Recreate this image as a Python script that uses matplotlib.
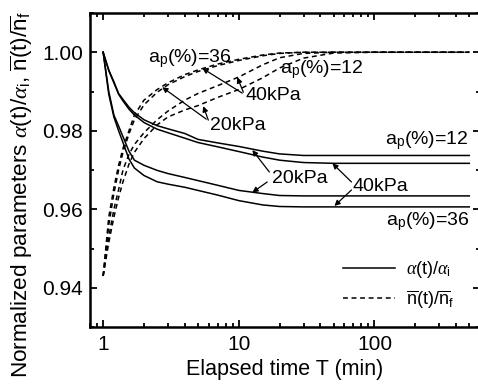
import numpy as np
import matplotlib.pyplot as plt
from matplotlib.ticker import MultipleLocator, LogLocator, NullFormatter, FixedLocator, FixedFormatter

plt.rcParams['font.family'] = ['Liberation Sans', 'DejaVu Sans']
plt.rcParams['mathtext.fontset'] = 'custom'
plt.rcParams['mathtext.rm'] = 'Liberation Sans'
plt.rcParams['mathtext.it'] = 'Liberation Serif:italic'
plt.rcParams['mathtext.bf'] = 'Liberation Sans:bold'

# elapsed time (min)
T = [1, 1.1, 1.2, 1.3, 1.4, 1.55, 1.7, 2, 2.5, 3, 4, 5, 7, 10, 15, 20, 30, 50, 100, 500]

# alpha(t)/alpha_i  (solid)
a12_20 = [1.0, 0.9955, 0.9925, 0.9895, 0.9880, 0.9860, 0.9846, 0.9828, 0.9813, 0.9805,
          0.9793, 0.9778, 0.9769, 0.9760, 0.9748, 0.9741, 0.9737, 0.9737, 0.9737, 0.9737]
a12_40 = [1.0, 0.9953, 0.9922, 0.9893, 0.9876, 0.9855, 0.9840, 0.9821, 0.9804, 0.9795,
          0.9781, 0.9770, 0.9759, 0.9747, 0.9733, 0.9725, 0.9719, 0.9717, 0.9717, 0.9717]
a36_20 = [1.0, 0.9900, 0.9840, 0.9812, 0.9785, 0.9748, 0.9725, 0.9712, 0.9699, 0.9691,
          0.9681, 0.9673, 0.9661, 0.9648, 0.9640, 0.9635, 0.9634, 0.9634, 0.9634, 0.9634]
a36_40 = [1.0, 0.9893, 0.9835, 0.9800, 0.9770, 0.9728, 0.9705, 0.9686, 0.9670, 0.9664,
          0.9656, 0.9648, 0.9636, 0.9622, 0.9611, 0.9607, 0.9606, 0.9606, 0.9606, 0.9606]

# n(t)/n_f  (dashed)
n36_40 = [0.943, 0.9580, 0.9655, 0.9712, 0.9755, 0.9800, 0.9840, 0.9878, 0.9905, 0.9922,
          0.9943, 0.9955, 0.9970, 0.9982, 0.9993, 0.9998, 1.0, 1.0, 1.0, 1.0]
n36_20 = [0.943, 0.9560, 0.9640, 0.9700, 0.9745, 0.9792, 0.9828, 0.9866, 0.9898, 0.9917,
          0.9938, 0.9951, 0.9966, 0.9979, 0.9991, 0.9997, 1.0, 1.0, 1.0, 1.0]
n12_40 = [0.943, 0.9530, 0.9600, 0.9650, 0.9700, 0.9740, 0.9765, 0.9795, 0.9828, 0.9850,
          0.9878, 0.9895, 0.9915, 0.9937, 0.9968, 0.9986, 0.9997, 1.0, 1.0, 1.0]
n12_20 = [0.943, 0.9515, 0.9580, 0.9630, 0.9670, 0.9715, 0.9745, 0.9780, 0.9815, 0.9835,
          0.9853, 0.9864, 0.9885, 0.9905, 0.9935, 0.9960, 0.9985, 0.9998, 1.0, 1.0]

fig = plt.figure(figsize=(4.78, 3.85), dpi=100)
ax = fig.add_axes([90/478, 58/385, 390/478, 314/385])

lw = 1.1
dash = (0, (3.2, 2.4))
for s in [a12_20, a12_40, a36_20, a36_40]:
    ax.plot(T, s, c='k', lw=lw)
for s in [n36_40, n36_20, n12_40, n12_20]:
    ax.plot(T, s, c='k', lw=lw, ls=dash)

# legend handles
ax.plot([], [], c='k', lw=lw, label=r'$\alpha$(t)/$\alpha_\mathrm{i}$')
ax.plot([], [], c='k', lw=lw, ls=dash, label=r'$\overline{\mathrm{n}}$(t)/$\overline{\mathrm{n}}_\mathrm{f}$')
h, l = ax.get_legend_handles_labels()
ax.legend(h[-2:], l[-2:], loc='lower right', frameon=False, fontsize=13,
          handlelength=2.9, handletextpad=0.6, labelspacing=0.45,
          bbox_to_anchor=(0.975, 0.0))

ax.set_xscale('log')
ax.set_xlim(0.8, 600)
ax.set_ylim(0.93, 1.01)
ax.yaxis.set_major_locator(FixedLocator([0.94, 0.96, 0.98, 1.00]))
ax.yaxis.set_major_formatter(FixedFormatter(['0.94', '0.96', '0.98', '1.00']))
ax.yaxis.set_minor_locator(MultipleLocator(0.01))
ax.xaxis.set_major_locator(FixedLocator([1, 10, 100]))
ax.xaxis.set_major_formatter(FixedFormatter(['1', '10', '100']))
ax.xaxis.set_minor_locator(LogLocator(base=10, subs=np.arange(2, 10)))
ax.xaxis.set_minor_formatter(NullFormatter())
ax.tick_params(which='both', direction='in', top=True, right=True, width=1.3, labelsize=15)
ax.tick_params(which='major', length=5)
ax.tick_params(which='minor', length=3)
ax.tick_params(axis='x', pad=6)
ax.tick_params(axis='y', pad=5)
for sp in ax.spines.values():
    sp.set_linewidth(1.8)

ax.set_xlabel('Elapsed time T (min)', fontsize=15.5, labelpad=3)
ax.set_ylabel(r'Normalized parameters $\alpha$(t)/$\alpha_\mathrm{i}$, '
              r'$\overline{\mathrm{n}}$(t)/$\overline{\mathrm{n}}_\mathrm{f}$',
              fontsize=16.2)
ax.yaxis.set_label_coords(-0.142, 0.422)

fs = 14
ax.text(4.39, 0.9985, r'a$_\mathrm{p}$(%)=36', fontsize=fs, ha='center', va='center')
ax.text(40.6, 0.9957, r'a$_\mathrm{p}$(%)=12', fontsize=fs, ha='center', va='center')
ax.text(18.1, 0.9891, '40kPa', fontsize=fs, ha='center', va='center')
ax.text(9.83, 0.9814, '20kPa', fontsize=fs, ha='center', va='center')
ax.text(242, 0.9774, r'a$_\mathrm{p}$(%)=12', fontsize=fs, ha='center', va='center')
ax.text(27.96, 0.9678, '20kPa', fontsize=fs, ha='center', va='center')
ax.text(110.8, 0.9659, '40kPa', fontsize=fs, ha='center', va='center')
ax.text(246, 0.9568, r'a$_\mathrm{p}$(%)=36', fontsize=fs, ha='center', va='center')

arrows = [
    ((2.725, 0.9911), (5.756, 0.98296)),
    ((5.47, 0.98627), (5.96, 0.98271)),
    ((5.38, 0.99593), (10.6, 0.98958)),
    ((9.75, 0.99364), (10.8, 0.98983)),
    ((12.58, 0.97508), (16.8, 0.96949)),
    ((12.58, 0.96428), (16.2, 0.96695)),
    ((48.98, 0.97170), (67.7, 0.96695)),
    ((50.7, 0.96084), (67.7, 0.96491)),
]
for head, tail in arrows:
    ax.annotate('', xy=head, xytext=tail,
                arrowprops=dict(arrowstyle='-|>', lw=0.9, color='k',
                                mutation_scale=8, shrinkA=0, shrinkB=0))

plt.savefig('out.png', dpi=100)
